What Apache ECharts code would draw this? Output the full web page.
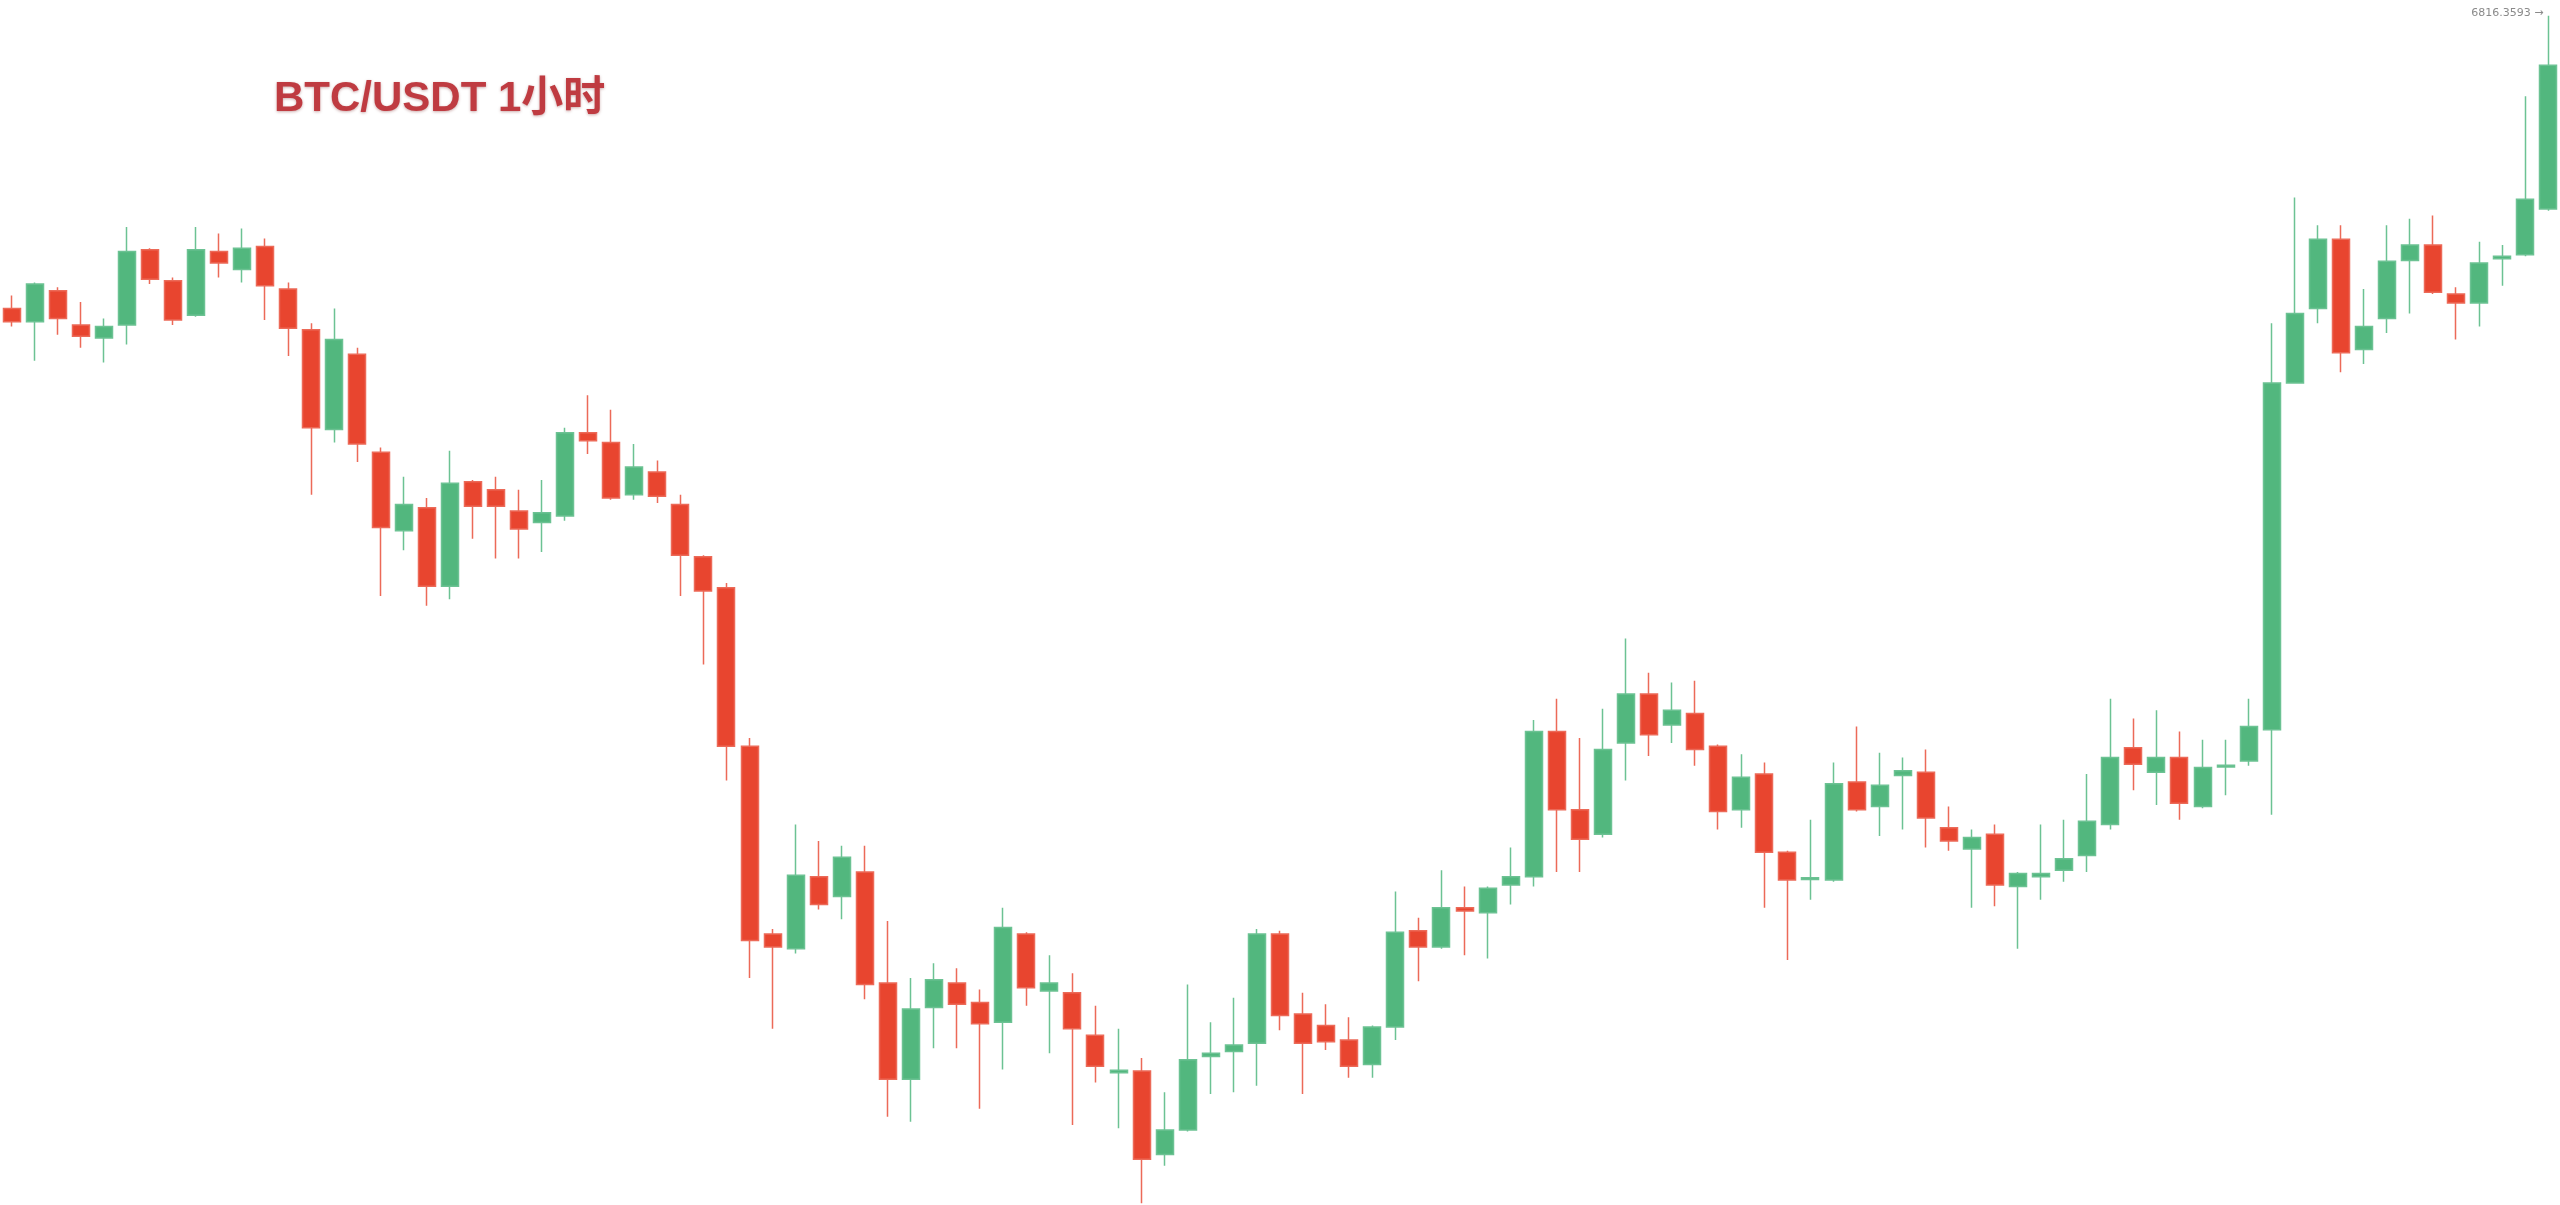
<!DOCTYPE html>
<html>
<head>
<meta charset="utf-8">
<script src="https://cdn.jsdelivr.net/npm/echarts@6/dist/echarts.min.js"></script>
<style>
html,body{margin:0;padding:0;background:#ffffff;}
#chart{width:2560px;height:1205px;}
</style>
</head>
<body>
<div id="chart"></div>
<script>
// Hourly candles (category labels are not shown on the chart)
var categories = [];
for (var h = 0; h < 111; h++) { categories.push('H' + h); }

var openVals = [6637,6629,6648,6627,6619,6627,6673,6654,6633,6672,
6661,6675,6649,6624,6563,6609,6549,6501,6515,6467,
6531,6526,6513,6506,6510,6561,6555,6523,6537,6517,
6485,6466,6369,6254,6245,6289,6277,6292,6224,6165,
6209,6224,6212,6200,6254,6219,6218,6192,6169,6170,
6119,6134,6179,6182,6187,6254,6205,6198,6189,6174,
6197,6256,6246,6270,6267,6284,6289,6378,6330,6315,
6371,6401,6382,6389,6369,6330,6352,6304,6287.3,6287,
6347,6332,6351,6353,6319,6306,6315,6283,6289,6293,
6302,6321,6368,6353,6362,6332,6356.3,6360,6379,6591.5,
6637,6679.5,6612,6631,6666.5,6676,6646,6640.5,6667.6,6670,
6698];

var closeVals = [6629,6652,6631,6620,6626,6672,6655,6630,6673,6665,
6674,6651,6625,6564,6618,6554,6503,6517,6467,6530,
6516,6516,6502,6512,6561,6556,6521,6540,6522,6486,
6464,6369,6250,6246,6290,6272,6301,6223,6165,6208,
6226,6211,6199,6258,6221,6224,6196,6173,6170.5,6116,
6134,6177,6181,6186,6254,6204,6187,6188,6173,6197,
6255,6246,6270,6268,6282,6289,6378,6330,6312,6367,
6401,6376,6391,6367,6329,6350,6304,6287,6288.5,6346,
6330,6345,6354,6325,6311,6313,6284,6291,6291,6300,
6323,6362,6358,6362,6334,6356,6357.4,6381,6591.5,6634,
6679.5,6610,6626,6666,6676,6647,6640.5,6665,6669,6704,
6786];

var lowVals = [6626,6605,6621,6613,6604,6615,6652,6627,6632,6656,
6653,6630,6608,6523,6555,6543,6461,6489,6455,6459,
6496,6484,6484,6488,6507,6548,6520,6520,6518,6461,
6419,6348,6227,6196,6242,6269,6263,6214,6142,6139,
6184,6184,6147,6171,6210,6181,6137,6163,6135,6089,
6112,6133,6156,6157,6161,6195,6156,6183,6166,6166,
6189,6225,6245,6241,6239,6272,6283,6292,6292,6313,
6348,6363,6371,6357,6318,6319,6270,6238,6275,6286,
6329,6314,6318,6307,6305,6270,6271,6245,6275,6286,
6292,6318,6342,6333,6324,6331,6339,6357,6327,6591,
6628,6598,6603,6622,6634,6646,6618,6626,6651,6669,
6697];

var highVals = [6645,6653,6650,6641,6631,6687,6674,6656,6687,6683,
6686,6680,6653,6628,6637,6613,6552,6534,6521,6550,
6532,6534,6526,6532,6564,6584,6575,6554,6544,6523,
6486,6469,6374,6257,6321,6311,6308,6308,6262,6227,
6236,6233,6220,6270,6255,6241,6230,6210,6196,6178,
6157,6223,6200,6215,6257,6256,6218,6211,6203,6198,
6280,6264,6293,6283,6283,6307,6385,6398,6374,6392,
6435,6414,6408,6409,6370,6364,6359,6305,6324,6359,
6381,6365,6362,6367,6332,6318,6321,6292,6321,6324,
6352,6398,6386,6391,6378,6373,6373,6398,6628,6705,
6688,6688,6649,6688,6692,6694,6650,6678,6676,6767,
6816.3593];

var titleText = 'BTC/USDT 1小时';
var maxLabel = '6816.3593 →';

var candleData = categories.map(function (c, i) {
  return [openVals[i], closeVals[i], lowVals[i], highVals[i]];
});

var chart = echarts.init(document.getElementById('chart'), null, { renderer: 'canvas' });
chart.setOption({
  animation: false,
  backgroundColor: '#ffffff',
  title: {
    text: titleText,
    left: 274,
    top: 78,
    padding: 0,
    textStyle: {
      fontFamily: '"Liberation Sans", Arial, "Noto Sans CJK SC", sans-serif',
      fontWeight: 'bold',
      fontSize: 42,
      color: '#bf3b41',
      textShadowColor: 'rgba(110,20,20,0.35)',
      textShadowBlur: 3,
      textShadowOffsetY: 1
    }
  },
  grid: { left: 0, right: 0, top: 0, bottom: 0, containLabel: false },
  xAxis: {
    type: 'category',
    data: categories,
    boundaryGap: true,
    show: false
  },
  yAxis: {
    type: 'value',
    min: 6088,
    max: 6826,
    show: false,
    splitLine: { show: false }
  },
  series: [{
    type: 'candlestick',
    data: candleData,
    barWidth: 17.5,
    itemStyle: {
      color: '#52b77e',
      color0: '#e8452f',
      borderColor: '#6cc293',
      borderColor0: '#ec6a58',
      borderWidth: 1.5
    },
    markPoint: {
      symbol: 'circle',
      symbolSize: 0,
      data: [{ coord: [categories[110], highVals[110]], value: highVals[110] }],
      label: {
        show: true,
        position: 'left',
        distance: 5,
        offset: [0, -3],
        formatter: maxLabel,
        color: '#8a8a8a',
        fontSize: 11,
        fontFamily: '"DejaVu Sans", sans-serif'
      }
    }
  }]
});
</script>
</body>
</html>
